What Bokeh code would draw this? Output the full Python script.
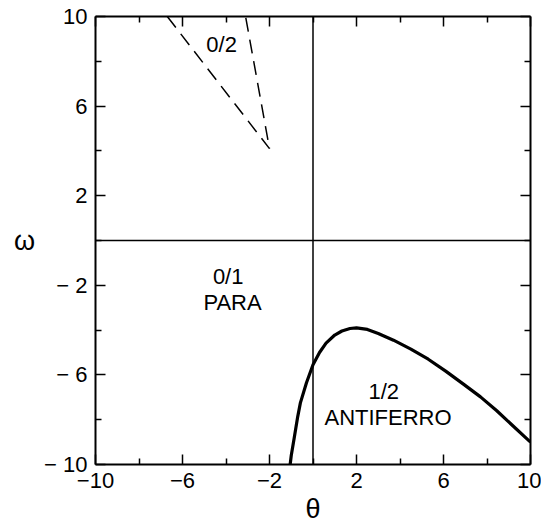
from bokeh.plotting import figure
from bokeh.models import Range1d, FixedTicker, LinearAxis
from bokeh.core.properties import value
from bokeh.embed import file_html
from bokeh.resources import INLINE

# axis ticks
major_ticks = [-10, -6, -2, 2, 6, 10]
minor_ticks = [-8, -4, 0, 4, 8]
x_tick_labels = {-10: "−10", -6: "−6", -2: "−2", 2: "2", 6: "6", 10: "10"}
y_tick_labels = {-10: "− 10", -6: "− 6", -2: "− 2", 2: "2", 6: "6", 10: "10"}
blank_tick_labels = {t: "" for t in major_ticks}

# straight phase boundaries
vert_theta = [0.0, 0.0]
vert_omega = [-10.0, 10.0]
horiz_theta = [-10.0, 10.0]
horiz_omega = [0.0, 0.0]

# dashed 0/2 wedge
wedge_theta = [-6.7, -2.0, -3.1]
wedge_omega = [10.0, 4.1, 10.0]

# antiferro boundary
af_theta = [-1.05, -1.0, -0.87, -0.7, -0.58, -0.3, 0.0, 0.3, 0.6, 1.0, 1.33, 1.7,
            2.0, 2.5, 3.0, 3.7, 4.5, 5.3, 6.1, 6.9, 7.7, 8.45, 9.2, 10.0]
af_omega = [-10.0, -9.6, -8.85, -7.85, -7.25, -6.35, -5.55, -5.0, -4.58, -4.22, -4.04, -3.93,
            -3.9, -3.97, -4.15, -4.45, -4.85, -5.3, -5.83, -6.4, -6.98, -7.6, -8.28, -9.0]

# region labels
region_text = ["0/2", "0/1", "PARA", "1/2", "ANTIFERRO"]
region_theta = [-4.2, -3.9, -3.7, 3.25, 3.45]
region_omega = [8.75, -1.6, -2.75, -6.75, -7.9]

FONT = "Liberation Sans"

p = figure(width=541, height=526, output_backend="svg", toolbar_location=None,
           x_range=Range1d(-10, 10), y_range=Range1d(-10, 10),
           min_border_left=95, min_border_right=11,
           min_border_top=16, min_border_bottom=58)
p.outline_line_color = None
p.xgrid.visible = False
p.ygrid.visible = False
p.background_fill_color = "white"
p.border_fill_color = "white"


def style_axis(ax, labels):
    ax.ticker = FixedTicker(ticks=major_ticks, minor_ticks=minor_ticks)
    ax.axis_line_width = 2
    ax.axis_line_color = "black"
    ax.major_tick_in = 10
    ax.major_tick_out = 0
    ax.minor_tick_in = 6
    ax.minor_tick_out = 0
    ax.major_tick_line_width = 1.5
    ax.minor_tick_line_width = 1.5
    ax.major_tick_line_color = "black"
    ax.minor_tick_line_color = "black"
    ax.major_label_overrides = labels
    ax.major_label_text_font = FONT
    ax.major_label_text_font_size = "22px"
    ax.major_label_text_color = "black"
    ax.axis_label_text_font = FONT
    ax.axis_label_text_font_style = "normal"
    ax.axis_label_text_color = "black"


xa = p.xaxis[0]
ya = p.yaxis[0]
style_axis(xa, x_tick_labels)
style_axis(ya, y_tick_labels)
xa.major_label_standoff = 8
ya.major_label_standoff = 8
xa.axis_label = "θ"
xa.axis_label_text_font_size = "27px"
xa.axis_label_standoff = 3
ya.axis_label = "ω"
ya.axis_label_text_font_size = "27px"
ya.axis_label_orientation = "horizontal"
ya.axis_label_standoff = 6

# mirrored frame sides: inward ticks, no labels
top = LinearAxis()
right = LinearAxis()
style_axis(top, blank_tick_labels)
style_axis(right, blank_tick_labels)
top.major_label_standoff = 0
right.major_label_standoff = 0
p.add_layout(top, "above")
p.add_layout(right, "right")

p.line(vert_theta, vert_omega, line_color="black", line_width=1.5)
p.line(horiz_theta, horiz_omega, line_color="black", line_width=1.5)
p.line(wedge_theta, wedge_omega, line_color="black", line_width=1.5, line_dash="14 8")
p.line(af_theta, af_omega, line_color="black", line_width=3.2, line_join="round")

p.text(x=region_theta, y=region_omega, text=region_text,
       text_font=value(FONT), text_font_size="22px", text_color="black",
       text_align="center", text_baseline="middle")

open("out.html", "w").write(file_html(p, INLINE))
